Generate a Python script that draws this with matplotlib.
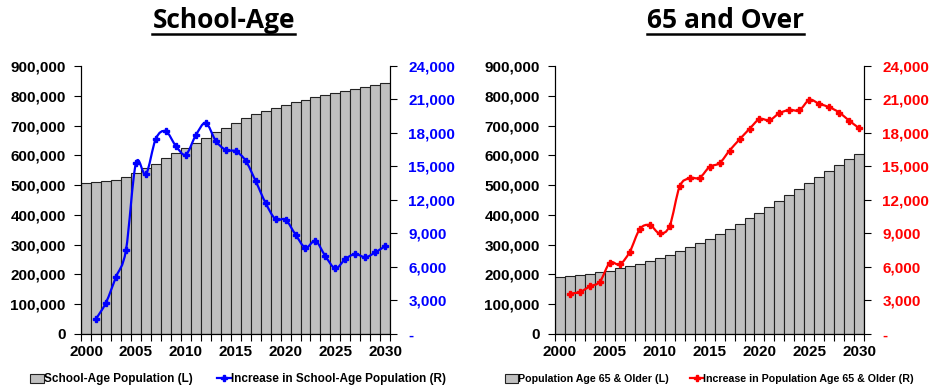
import numpy as np
import matplotlib
matplotlib.use("Agg")
import matplotlib.pyplot as plt
from matplotlib.path import Path
from matplotlib.patches import PathPatch, Patch
from matplotlib.lines import Line2D
from matplotlib.ticker import FuncFormatter

plt.rcParams["font.family"] = ["Liberation Sans", "DejaVu Sans"]
plt.rcParams["font.weight"] = "bold"

years = list(range(2000, 2031))
line_years = list(range(2001, 2031))

school_pop = [508, 510, 513, 518, 526, 542, 556, 572, 591, 608, 623, 640, 659, 677,
              693, 710, 725, 740, 750, 760, 770, 780, 787, 796, 804, 809, 815, 823,
              830, 837, 844]
school_pop = [v * 1000 for v in school_pop]
school_inc = [1350, 2810, 5100, 7490, 15280, 14300, 17490, 18150, 16840, 16060, 17790,
              18900, 17310, 16480, 16360, 15520, 13700, 11730, 10270, 10240, 8900, 7730,
              8330, 6960, 5880, 6720, 7160, 6870, 7310, 7880]

senior_pop = [192, 195, 199, 202, 208, 213, 220, 228, 236, 246, 256, 266, 279, 293,
              306, 320, 336, 353, 370, 389, 406, 428, 447, 467, 487, 507, 527, 547,
              567, 587, 604]
senior_pop = [v * 1000 for v in senior_pop]
senior_inc = [3610, 3760, 4260, 4680, 6380, 6230, 7370, 9390, 9750, 9010, 9690, 13210,
              13960, 13990, 14970, 15300, 16430, 17420, 18370, 19240, 19150, 19770,
              20070, 20040, 20960, 20610, 20310, 19830, 19090, 18430]

# title, bars, line, colour, legend labels, axes left, title centre, legend centre, legend size
panels = [
    ("School-Age", school_pop, school_inc, "#0000FF",
     "School-Age Population (L)", "Increase in School-Age Population (R)",
     0.0862, 0.238, 0.253, 8.5),
    ("65 and Over", senior_pop, senior_inc, "#FF0000",
     "Population Age 65 & Older (L)", "Increase in Population Age 65 & Older (R)",
     0.5904, 0.772, 0.755, 7.7),
]


def smooth_path(x, y):
    pts = np.column_stack([x, y]).astype(float)
    verts = [pts[0]]
    codes = [Path.MOVETO]
    n = len(pts)
    for i in range(n - 1):
        p0 = pts[i - 1] if i > 0 else pts[i]
        p1, p2 = pts[i], pts[i + 1]
        p3 = pts[i + 2] if i + 2 < n else pts[i + 1]
        verts += [p1 + (p2 - p0) / 6, p2 - (p3 - p1) / 6, p2]
        codes += [Path.CURVE4] * 3
    return Path(verts, codes)


fig = plt.figure(figsize=(9.4, 3.87), dpi=100)

for title, pop, inc, color, lab_l, lab_r, x0, tx, lx, lsize in panels:
    ax = fig.add_axes([x0, 0.137, 0.329, 0.6925])
    ax.bar(years, pop, width=1.0, color="#C0C0C0", edgecolor="#222222", linewidth=0.8)
    ax.set_xlim(1999.5, 2030.5)
    ax.set_ylim(0, 900000)
    ax.set_yticks(range(0, 900001, 100000))
    ax.yaxis.set_major_formatter(FuncFormatter(lambda v, p: f"{v:,.0f}"))
    ax.set_xticks(np.arange(1999.5, 2031, 1.0))
    ax.set_xticklabels([])
    ax.set_xticks(range(2000, 2031, 5), minor=True)
    ax.set_xticklabels([str(y) for y in range(2000, 2031, 5)], minor=True)
    ax.tick_params(axis="x", which="major", length=5, width=0.8, direction="out")
    ax.tick_params(axis="x", which="minor", length=0, pad=8, labelsize=11)
    ax.tick_params(axis="y", length=5, width=0.8, pad=6, labelsize=11)
    ax.spines["top"].set_visible(False)

    ax2 = ax.twinx()
    ax2.set_ylim(0, 24000)
    ax2.set_yticks(range(0, 24001, 3000))
    ax2.yaxis.set_major_formatter(
        FuncFormatter(lambda v, p: "-" if v == 0 else f"{v:,.0f}"))
    ax2.tick_params(axis="y", length=5, width=0.8, pad=8, labelsize=11,
                    labelcolor=color)
    ax2.spines["top"].set_visible(False)
    ax2.add_patch(PathPatch(smooth_path(line_years, inc), facecolor="none",
                            edgecolor=color, linewidth=1.6))
    ax2.plot(line_years, inc, linestyle="none", marker="P", markersize=4, color=color)

    t = fig.text(tx, 0.928, title, ha="center", va="baseline", fontsize=19,
                 fontfamily="Open Sans", fontweight="bold")
    fig.canvas.draw()
    bb = t.get_window_extent().transformed(fig.transFigure.inverted())
    fig.add_artist(Line2D([bb.x0, bb.x1], [0.911, 0.911], color="black",
                          linewidth=1.8, transform=fig.transFigure))

    handles = [Patch(facecolor="#C0C0C0", edgecolor="#222222", linewidth=0.8),
               Line2D([], [], color=color, linewidth=1.6, marker="P", markersize=4)]
    fig.legend(handles, [lab_l, lab_r], loc="center", ncol=2,
               bbox_to_anchor=(lx, 0.02), frameon=False, fontsize=lsize,
               handlelength=1.2, handletextpad=0.0, columnspacing=2.0,
               handleheight=0.8)

fig.savefig("out.png", dpi=100)
